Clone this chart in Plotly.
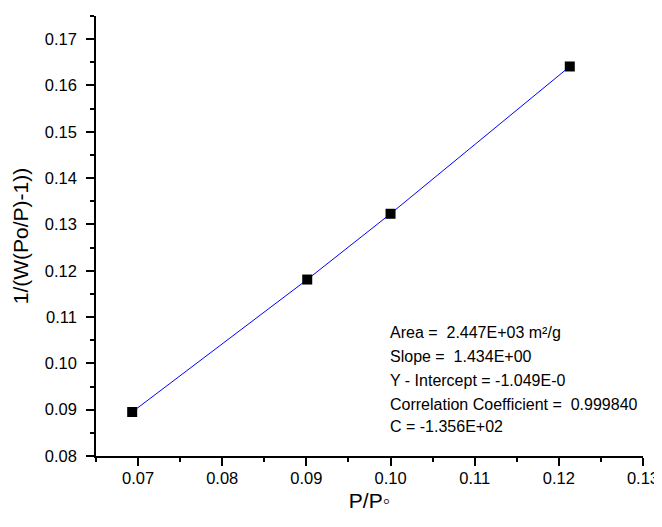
import plotly.graph_objects as go

x_vals = [0.0693, 0.0901, 0.1000, 0.1213]
y_vals = [0.0895, 0.1181, 0.1323, 0.1641]

x_ticks = [0.07, 0.08, 0.09, 0.10, 0.11, 0.12, 0.13]
x_tick_labels = ["0.07", "0.08", "0.09", "0.10", "0.11", "0.12", "0.13"]
y_ticks = [0.08, 0.09, 0.10, 0.11, 0.12, 0.13, 0.14, 0.15, 0.16, 0.17]
y_tick_labels = ["0.08", "0.09", "0.10", "0.11", "0.12", "0.13", "0.14", "0.15", "0.16", "0.17"]

info_lines = [
    "Area =  2.447E+03 m²/g",
    "Slope =  1.434E+00",
    "Y - Intercept = -1.049E-0",
    "Correlation Coefficient =  0.999840",
    "C = -1.356E+02",
]
info_y = [0.1066, 0.1014, 0.0964, 0.0912, 0.0863]
info_x = 0.0997

FONT = "Liberation Sans, Arial, sans-serif"

fig = go.Figure()
fig.add_trace(go.Scatter(
    x=x_vals, y=y_vals, mode="lines",
    line=dict(color="#0000ff", width=1), showlegend=False,
))
fig.add_trace(go.Scatter(
    x=x_vals, y=y_vals, mode="markers",
    marker=dict(symbol="square", size=10, color="black"), showlegend=False,
))

for t, yy in zip(info_lines, info_y):
    fig.add_annotation(x=info_x, y=yy, xref="x", yref="y", text=t,
                       showarrow=False, xanchor="left", yanchor="middle",
                       font=dict(family=FONT, size=16, color="black"))

axis_common = dict(
    showgrid=False, zeroline=False, showline=True, linecolor="black", linewidth=1.5,
    ticks="outside", ticklen=8, tickwidth=1.5, tickcolor="black",
    tickfont=dict(family=FONT, size=16.5, color="black"),
    minor=dict(ticks="outside", ticklen=4, tickwidth=1.5, tickcolor="black", dtick=0.005),
    mirror=False, automargin=False,
)

fig.update_xaxes(range=[0.065, 0.13], tickvals=x_ticks, ticktext=x_tick_labels,
                 ticklabelstandoff=-2,
                 title=dict(text="P/P◦", font=dict(family=FONT, size=21, color="black"), standoff=8),
                 **axis_common)
fig.update_yaxes(range=[0.08, 0.175], tickvals=y_ticks, ticktext=y_tick_labels,
                 ticklabelstandoff=6,
                 title=dict(text="1/(W(Po/P)-1))", font=dict(family=FONT, size=21, color="black"), standoff=10),
                 **axis_common)

# page body has an 8px default margin, so the plot area is placed with that offset in mind
fig.update_layout(
    width=662, height=527,
    margin=dict(l=88, r=27, t=8, b=79),
    plot_bgcolor="white", paper_bgcolor="white",
    font=dict(family=FONT),
)

fig.write_html("out.html")
